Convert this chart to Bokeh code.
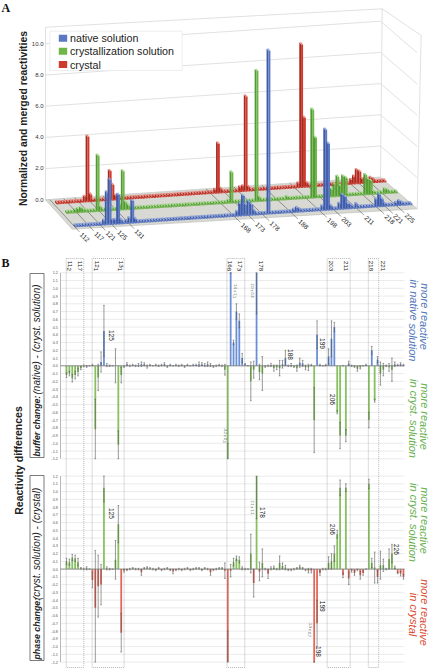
from bokeh.plotting import figure
from bokeh.models import Range1d
from bokeh.core.properties import value
from bokeh.embed import file_html
from bokeh.resources import INLINE

# ---------- panel A data (peaks; every other residue sits at floor_level) ----------
floor_level = 0.12
red_res = [121,122,123,130,131,132,168,169,170,177,178,179,180,198,199,200,201,217,218,219,220,221,222,223,224,225]
red_val = [.35,4.2,.5,1.9,1.0,.3,.25,3.2,.3,.3,.35,6.1,.3,.3,9.2,4.5,.3,.3,.5,.9,.8,.3,.3,.3,.35,.25]
green_res = [114,115,116,117,122,123,130,131,132,133,169,170,179,180,190,199,200,205,206,207,208,209,210,211,218,219,220,221,225,226]
green_val = [.2,.25,.3,.2,3.6,.3,.4,2.5,.5,.3,.2,2.0,8.4,.3,.2,5.7,3.9,.4,.5,.8,1.3,.7,1.3,1.2,1.3,1.0,.9,.2,.3,.25]
blue_res = [121,122,123,124,125,126,127,129,130,131,132,168,169,170,171,172,173,174,179,188,189,190,198,199,200,201,204,205,206,207,208,210,217,218,219,220,224,225,226]
blue_val = [.3,2.1,2.9,.3,.3,1.9,.3,.2,.35,1.45,.3,.3,.8,1.3,.7,.9,.7,.3,10.5,.2,.3,.2,.3,5.2,4.3,.3,.4,.95,.8,.35,.25,.3,.5,.8,.5,.2,.2,.3,.2]
tick_res_3d = [112,117,121,125,131,168,173,178,188,198,203,211,218,221,225]
value_ticks_3d = [0,2,4,6,8,10]
legend_labels = ["native solution","crystallization solution","crystal"]

# ---------- panel B data ----------
residues = list(range(112,230))
buffer_val = [
 -.12,-.10,-.16,-.12,-.08,-.03,.00,-.01,.00,.01,
 -.82,-.15,.05,.45,.01,.00,.00,.00,-1.02,-.12,
 -.01,.02,.00,.01,.00,.01,.02,.02,-.01,.01,
 .00,.01,.00,.01,.02,-.01,.01,.00,.01,.00,
 .01,-.01,.01,.00,.01,.01,.02,.02,.01,.02,
 .01,-.01,.00,.01,.00,-.05,-1.2,1.2,.30,.70,
 .58,.10,.02,.00,-.20,-.05,1.2,-.08,-.10,-.01,
 .00,.01,-.03,-.02,-.03,.02,.10,.00,.01,-.01,
 -.03,.04,.03,-.02,-.02,.01,-.70,.40,.01,.00,
 .01,.12,.35,.50,-.60,-.90,.00,-.90,.03,.00,
 -.01,-.04,-.02,.00,.01,-.70,.20,-.45,.08,-.10,
 -.05,.00,-.02,-.05,.02,.01,.02,.01]
buffer_err = [
 .03,.03,.05,.05,.05,.02,.01,.01,.00,.01,
 .39,.17,.13,.33,.02,.01,.00,.22,.18,.10,
 .01,.02,.01,.01,.01,.02,.03,.02,.02,.01,
 .00,.01,.01,.01,.02,.01,.01,.00,.01,.01,
 .01,.01,.01,.00,.01,.01,.03,.02,.02,.03,
 .02,.01,.01,.01,.01,.07,.20,.00,.03,.10,
 .09,.06,.01,.00,.25,.11,.53,.10,.22,.01,
 .01,.02,.04,.03,.10,.05,.10,.01,.02,.01,
 .04,.06,.04,.03,.04,.01,.42,.18,.01,.00,
 .01,.10,.23,.06,.02,.17,.00,.08,.03,.01,
 .01,.03,.02,.00,.01,.10,.05,.02,.04,.15,
 .08,.01,.05,.15,.03,.01,.02,.01]
phase_val = [
 .10,.09,.15,.14,.09,.01,.00,.01,.00,-.14,
 -.50,-.22,-.20,1.05,.01,.00,.00,.12,.58,-.82,
 -.02,-.01,.00,.01,.00,.00,-.04,.01,.02,.01,
 .00,-.01,.01,-.01,.00,.01,-.01,-.03,-.01,.00,
 -.01,.00,.01,-.01,.00,.01,.01,-.01,.01,.00,
 -.04,-.01,.00,.01,.01,-.02,-1.2,-.02,.09,.14,
 .12,.01,.00,.00,.20,-.18,1.2,-.03,.08,.00,
 -.06,.01,.02,.00,.08,.04,.02,-.01,-.01,.00,
 .01,.03,.01,-.01,-.02,-.02,-1.2,-.70,-.05,.00,
 .00,.08,.10,.20,.45,1.05,-.08,1.05,-.12,-.02,
 -.05,-.01,-.08,-.05,.00,1.10,.08,.02,-.10,.05,
 .05,.00,.13,.20,.02,-.05,-.06,-.10]
phase_err = [
 .04,.04,.04,.04,.05,.01,.01,.02,.00,.10,
 .74,.40,.26,.18,.02,.01,.00,.25,.24,.25,
 .02,.01,.01,.01,.01,.01,.04,.01,.01,.01,
 .01,.01,.01,.01,.01,.01,.01,.03,.01,.01,
 .01,.01,.01,.01,.01,.01,.01,.01,.01,.01,
 .04,.01,.01,.01,.01,.10,.40,.08,.05,.03,
 .04,.02,.01,.00,.25,.18,.55,.12,.18,.01,
 .06,.02,.02,.01,.09,.04,.03,.01,.01,.01,
 .01,.02,.01,.01,.03,.03,.00,.30,.03,.01,
 .01,.08,.10,.10,.05,.10,.03,.05,.08,.02,
 .03,.01,.05,.03,.00,.06,.06,.20,.08,.18,
 .08,.01,.13,.12,.02,.01,.03,.03]
assert len(buffer_val)==len(buffer_err)==len(phase_val)==len(phase_err)==len(residues)
y_ticks = [round(-1.2+.1*i,1) for i in range(25)]
boxes = [(111.9,118),(120.9,132),(167.7,173.9),(202.5,210.5),(216.8,220.4)]
top_labels = [("112",69),("117",79.6),("121",96),("131",120),("168",229),("173",239),("178",260),("203",330),("211",345.7),("218",370),("221",382.7)]

BLUE,GREEN,RED = "#5b78c4","#6fb548","#cf3a2e"
BLUE_D,GREEN_D,RED_D = "#3f5aa5","#4f9a34","#a92a22"
BLUE_L,GREEN_L,RED_L = "#8ea3da","#a4d68a","#e8897f"
BAR_BLUE,BAR_GREEN,BAR_RED = "#6a8fd6","#86c060","#e0685a"
FONT = value("Liberation Sans")

p = figure(width=430,height=668,x_range=(0,430),y_range=(668,0),tools="",toolbar_location=None,
           output_backend="svg",min_border=0,x_axis_location=None,y_axis_location=None,outline_line_color=None)
p.grid.visible=False
p.styles={"position":"absolute","left":"0px","top":"0px"}

def txt(x,y,s,size=7,color="#222",angle=0,align="center",base="middle",font=FONT,style="normal",**kw):
    p.text(x=[x],y=[y],text=[s],text_font=font,text_font_size=f"{size}px",text_color=color,
           angle=angle,text_align=align,text_baseline=base,text_font_style=style,**kw)

# ---------- panel A ----------
back_l,back_r=(45,199.3),(380,176.7)
front_l,front_r=(71.7,228.7),(416.7,208.3)
top_l,top_r=(45,26.7),(381.7,8.3)
side_top,side_bot=(420.7,35),front_r
k3d=15.6
p.patch([back_l[0],back_r[0],front_r[0],front_l[0]],[back_l[1],back_r[1],front_r[1],front_l[1]],
        fill_color="#d9d9d3",line_color="#bbbbb5",line_width=.6)
gc="#d4d4d4"
for v in value_ticks_3d:
    d=v*k3d
    p.line([back_l[0],back_r[0],front_r[0]],[back_l[1]-d,back_r[1]-d,front_r[1]-d],line_color=gc,line_width=.7)
    txt(43,back_l[1]-d-.3,f"{v:.1f}",size=6,color="#333",align="right")
p.line([back_l[0],top_l[0]],[back_l[1],top_l[1]],line_color=gc,line_width=.7)
p.line([back_r[0],top_r[0]],[back_r[1],top_r[1]],line_color=gc,line_width=.7)
p.line([front_r[0],side_top[0]],[front_r[1],side_top[1]],line_color=gc,line_width=.7)
p.line([top_l[0],top_r[0],side_top[0]],[top_l[1],top_r[1],side_top[1]],line_color=gc,line_width=.7)

def ux(r): return (r-110.5)/120
def lerp(a,b,u): return (a[0]+(b[0]-a[0])*u,a[1]+(b[1]-a[1])*u)
for r in tick_res_3d:
    u=ux(r); a=lerp(back_l,back_r,u); b=lerp(front_l,front_r,u)
    p.line([a[0],b[0]+3],[a[1],b[1]+3],line_color="#444",line_width=.5)
    txt(b[0]+4.5,b[1]+4.5,str(r),size=6.6,color="#222",angle=-.75,align="left")

def row(res,vals,left,right,main,dark,light):
    peak=dict(zip(res,vals))
    fx,fy,fc=[],[],[]
    for r in range(111,230):
        v=peak.get(r,floor_level)
        u=ux(r); a=lerp(left,right,u); b=lerp(left,right,u+.72/120)
        h=v*k3d; dx,dy=-1.8,-2.1
        fx.append([a[0],a[0]+dx,a[0]+dx,a[0]]); fy.append([a[1],a[1]+dy,a[1]+dy-h,a[1]-h]); fc.append(dark)
        fx.append([a[0],b[0],b[0],a[0]]); fy.append([a[1],b[1],b[1]-h,a[1]-h]); fc.append(main)
        fx.append([a[0],b[0],b[0]+dx,a[0]+dx]); fy.append([a[1]-h,b[1]-h,b[1]+dy-h,a[1]+dy-h]); fc.append(light)
    p.patches(fx,fy,fill_color=fc,line_color=None)
row(red_res,red_val,(55,204),(388,181.7),RED,RED_D,RED_L)
row(green_res,green_val,(65,213.5),(399.5,192.7),GREEN,GREEN_D,GREEN_L)
row(blue_res,blue_val,(73.5,227),(414,204.5),BLUE,BLUE_D,BLUE_L)

p.quad(left=[49.3],right=[181.7],top=[30.7],bottom=[70],fill_color="#ffffff",line_color="#e6e6e6",line_width=.7)
for s,y,c in zip(legend_labels,[37.7,50.7,64],[BLUE,GREEN,RED]):
    p.quad(left=[58.3],right=[66.7],top=[y-3.5],bottom=[y+3.5],fill_color=c,line_color=None)
    txt(69.5,y,s,size=10.7,color="#222",align="left")
txt(22.7,118,"Normalized and merged reactivities",size=10.4,color="#222",angle=1.5708,style="bold")
txt(1,7,"A",size=12,color="#111",align="left",font=value("Liberation Serif"),style="bold")
txt(1,262,"B",size=12,color="#111",align="left",font=value("Liberation Serif"),style="bold")

# ---------- panel B ----------
PX=2.88; RES0=112; X0=66
p.extra_x_ranges["res"]=Range1d(start=RES0+(0-X0)/PX,end=RES0+(430-X0)/PX)
UNIT=77.5
def add_range(name,zero):
    p.extra_y_ranges[name]=Range1d(start=(zero-668)/UNIT,end=(zero-0)/UNIT)
add_range("buffer",365.3); add_range("phase",568.6)

def panel(name,vals,errs,pos_c,neg_c):
    kw=dict(x_range_name="res",y_range_name=name)
    res_l=RES0+(60-X0)/PX; res_r=RES0+(404-X0)/PX
    p.segment(x0=[res_l]*25,x1=[res_r]*25,y0=y_ticks,y1=y_ticks,line_color="#dedede",line_width=.6,**kw)
    p.segment(x0=[res_l],x1=[res_l],y0=[-1.2],y1=[1.2],line_color="#999",line_width=.7,**kw)
    p.text(x=[res_l-.9]*25,y=y_ticks,text=[f"{t:.1f}" for t in y_ticks],text_font=FONT,text_font_size="3.8px",
           text_color="#555",text_align="right",text_baseline="middle",**kw)
    p.vbar(x=residues,top=vals,bottom=0,width=.62,fill_color=[pos_c if v>=0 else neg_c for v in vals],line_color=None,**kw)
    lo=[max(v-e,-1.2) for v,e in zip(vals,errs)]; hi=[min(v+e,1.2) for v,e in zip(vals,errs)]
    ec="#555555"
    p.segment(x0=residues,x1=residues,y0=lo,y1=hi,line_color=ec,line_width=.6,**kw)
    capl=[r-.3 for r in residues]; capr=[r+.3 for r in residues]
    p.segment(x0=capl,x1=capr,y0=hi,y1=hi,line_color=ec,line_width=.5,**kw)
    p.segment(x0=capl,x1=capr,y0=lo,y1=lo,line_color=ec,line_width=.5,**kw)
    p.segment(x0=[res_l],x1=[res_r],y0=[0],y1=[0],line_color="#777",line_width=.8,**kw)
panel("buffer",buffer_val,buffer_err,BAR_BLUE,BAR_GREEN)
panel("phase",phase_val,phase_err,BAR_GREEN,BAR_RED)

for a,b in boxes:
    xa=X0+(a-RES0)*PX; xb=X0+(b-RES0)*PX
    p.line([xa,xa,xb,xb,xa],[258,667,667,258,258],line_color="#888",line_width=.6,line_dash="1 1")
for s,x in top_labels:
    txt(x,265.5,s,size=6.2,color="#222",angle=-1.5708)

p.quad(left=[29.5],right=[43.5],top=[273],bottom=[457],fill_color="#ffffff",line_color="#444",line_width=.7)
p.quad(left=[29.5],right=[43.5],top=[475],bottom=[660],fill_color="#ffffff",line_color="#444",line_width=.7)
txt(36.5,456,"buffer change:",size=8.8,color="#222",angle=1.5708,align="left",style="bold italic")
txt(36.5,394,"(native) - (cryst. solution)",size=10,color="#222",angle=1.5708,align="left",style="italic")
txt(36.5,659,"phase change:",size=8.8,color="#222",angle=1.5708,align="left",style="bold italic")
txt(36.5,599.5,"(cryst. solution) - (crystal)",size=10,color="#222",angle=1.5708,align="left",style="italic")
txt(18,460,"Reactivity differences",size=10.5,color="#222",angle=1.5708,style="bold")

C_B,C_G,C_R="#4d74b8","#63b04a","#d8492f"
for x1,x2,y1,y2,c,s1,s2 in [(424,413,316,320,C_B,"more reactive","in native solution"),
                            (424,413,416,418,C_G,"more reactive","in cryst. solution"),
                            (424,413,520,522,C_G,"more reactive","in cryst. solution"),
                            (424,413,612,614,C_R,"more reactive","in crystal")]:
    txt(x1,y1,s1,size=11,color=c,angle=-1.5708,style="italic")
    txt(x2,y2,s2,size=11,color=c,angle=-1.5708,style="italic")

for s,x,y in [("125",110.7,335),("188",290,354),("199",321.7,343),("206",331.7,399),
              ("125",110.7,513),("178",261.7,512),("206",332,529),("226",395.7,549),("199",321.7,605.7),("198",318,651)]:
    txt(x,y,s,size=6.5,color="#222",angle=-1.5708)
for s,x,y in [("1.6 ± 1.1",234,290.7),("2.0 ± 0.3",251.7,290),("-3.2 ± 0.5",224,435),
              ("2.1 ± 1.1",251.7,507),("-1.9 ± 0.7",309,629)]:
    txt(x,y,s,size=3.6,color="#444",angle=-1.5708)

open("out.html","w").write(file_html(p,INLINE))
